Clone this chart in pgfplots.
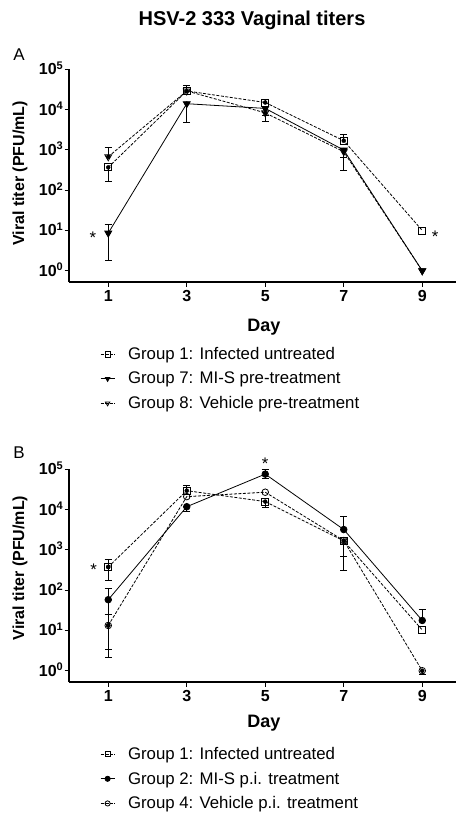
\documentclass[border=0pt]{standalone}
\usepackage{fontspec}
\setmainfont{Liberation Sans}
\usepackage{pgfplots}
\pgfplotsset{compat=1.18}

\newcommand\tp[1]{10\smash{\raisebox{5.5pt}{\fontsize{11}{11}\selectfont\bfseries #1}}}

\pgfplotsset{
 legend image code/.code={\draw[mark repeat=2,mark phase=2,#1, mark size=2.6pt] plot coordinates {(0pt,0pt) (7pt,0pt) (14pt,0pt)};},
 sDsh/.style={black, line width=0.8pt, dash pattern=on 3pt off 1.5pt},
 sSld/.style={black, line width=0.8pt, solid},
 sGa/.style={sDsh, mark=square, mark size=3.5pt, mark options={solid, fill=white}},
 sGb/.style={sSld, mark=triangle*, mark size=4pt, mark options={solid, fill=black, rotate=180}},
 sGc/.style={sDsh, mark=triangle, mark size=4pt, mark options={solid, fill=white, rotate=180}},
 sGd/.style={sSld, mark=*, mark size=3.3pt, mark options={solid, fill=black}},
 sGe/.style={sDsh, mark=o, mark size=3.3pt, mark options={solid, fill=white}},
}

\begin{document}
\begin{tikzpicture}
\useasboundingbox (0,0) rectangle (457pt,-815pt);

\node[anchor=base, font=\bfseries\fontsize{20}{24}\selectfont] at (252pt,-25pt) {HSV-2 333 Vaginal titers};
\node[anchor=base, font=\fontsize{17}{20}\selectfont] at (19pt,-60pt) {A};
\node[anchor=base, font=\fontsize{17}{20}\selectfont] at (19pt,-458pt) {B};
\node[rotate=90, font=\bfseries\fontsize{16}{19}\selectfont] at (20pt,-173.5pt) {Viral titer (PFU/mL)};
\node[rotate=90, font=\bfseries\fontsize{16}{19}\selectfont] at (20pt,-568pt) {Viral titer (PFU/mL)};
\node[anchor=base, font=\bfseries\fontsize{18}{22}\selectfont] at (264pt,-331pt) {Day};
\node[anchor=base, font=\bfseries\fontsize{18}{22}\selectfont] at (264pt,-727pt) {Day};

% ---------------- Panel A ----------------
\begin{axis}[at={(69pt,-282pt)}, anchor=south west,
  scale only axis, width=386.6pt, height=212.7pt,
  xmin=0, xmax=9.85, ymode=log, ymin=0.525, ymax=1e5,
  axis x line*=bottom, axis y line*=left,
  axis line style={line width=1.5pt},
  xtick={1,3,5,7,9}, ytick={1,10,100,1000,10000,100000},
  yticklabels={\tp{0},\tp{1},\tp{2},\tp{3},\tp{4},\tp{5}},
  yminorticks=false, xminorticks=false,
  tick align=outside, major tick length=4.5pt,
  tick style={line width=1.2pt, black},
  ticklabel style={font=\bfseries\fontsize{16}{19}\selectfont},
  yticklabel style={inner sep=1.5pt},
  /pgf/number format/assume math mode=true,
  clip=false,
  legend style={draw=none, fill=none, font=\fontsize{16.8}{20}\selectfont, anchor=west, at={(0.0802,-0.455)}, inner sep=0pt, row sep=9pt, nodes={inner sep=1pt}, /tikz/every odd column/.append style={column sep=12pt}},
  legend cell align=left]
% error bars
\addplot[only marks, mark=none, forget plot, black, error bars/.cd, y dir=plus, y explicit, error bar style={solid, black, line width=0.8pt}, error mark options={rotate=90, solid, black, mark size=3.5pt, line width=0.8pt}] coordinates {(3,29000) +- (0,11000) (5,15000) +- (0,3000) (7,1690) +- (0,770)};
\addplot[only marks, mark=none, forget plot, black, error bars/.cd, y dir=minus, y explicit, error bar style={solid, black, line width=0.8pt}, error mark options={rotate=90, solid, black, mark size=3.5pt, line width=0.8pt}] coordinates {(1,368) +- (0,206)};
\addplot[only marks, mark=none, forget plot, black, error bars/.cd, y dir=plus, y explicit, error bar style={solid, black, line width=0.8pt}, error mark options={rotate=90, solid, black, mark size=3.5pt, line width=0.8pt}] coordinates {(1,8.6) +- (0,5.4)};
\addplot[only marks, mark=none, forget plot, black, error bars/.cd, y dir=minus, y explicit, error bar style={solid, black, line width=0.8pt}, error mark options={rotate=90, solid, black, mark size=3.5pt, line width=0.8pt}] coordinates {(1,8.6) +- (0,6.76) (3,14000) +- (0,9200) (5,10700) +- (0,3400) (7,990) +- (0,340)};
\addplot[only marks, mark=none, forget plot, black, error bars/.cd, y dir=plus, y explicit, error bar style={solid, black, line width=0.8pt}, error mark options={rotate=90, solid, black, mark size=3.5pt, line width=0.8pt}] coordinates {(1,675) +- (0,455)};
\addplot[only marks, mark=none, forget plot, black, error bars/.cd, y dir=minus, y explicit, error bar style={solid, black, line width=0.8pt}, error mark options={rotate=90, solid, black, mark size=3.5pt, line width=0.8pt}] coordinates {(5,8300) +- (0,3100) (7,900) +- (0,585)};
% series
\addplot[sGc, forget plot] coordinates {(1,675) (3,29000) (5,8300) (7,900) (9,1)};
\addplot[sGa] coordinates {(1,368) (3,29000) (5,15000) (7,1690) (9,10)};
\addlegendentry{Group 1: Infected untreated}
\addplot[sGb] coordinates {(1,8.6) (3,14000) (5,10700) (7,990) (9,1)};
\addlegendentry{Group 7: MI-S pre-treatment}
\addlegendimage{sGc}
\addlegendentry{Group 8: Vehicle pre-treatment}
\node[font=\fontsize{16.8}{20}\selectfont, yshift=-3.7pt] at (axis cs:0.61,8.1) {*};
\node[font=\fontsize{16.8}{20}\selectfont, yshift=-3.7pt] at (axis cs:9.33,8.8) {*};
\end{axis}

% ---------------- Panel B ----------------
\begin{axis}[at={(69pt,-682pt)}, anchor=south west,
  scale only axis, width=386.6pt, height=212.7pt,
  xmin=0, xmax=9.85, ymode=log, ymin=0.525, ymax=1e5,
  axis x line*=bottom, axis y line*=left,
  axis line style={line width=1.5pt},
  xtick={1,3,5,7,9}, ytick={1,10,100,1000,10000,100000},
  yticklabels={\tp{0},\tp{1},\tp{2},\tp{3},\tp{4},\tp{5}},
  yminorticks=false, xminorticks=false,
  tick align=outside, major tick length=4.5pt,
  tick style={line width=1.2pt, black},
  ticklabel style={font=\bfseries\fontsize{16}{19}\selectfont},
  yticklabel style={inner sep=1.5pt},
  /pgf/number format/assume math mode=true,
  clip=false,
  legend style={draw=none, fill=none, font=\fontsize{16.8}{20}\selectfont, anchor=west, at={(0.0802,-0.455)}, inner sep=0pt, row sep=9pt, nodes={inner sep=1pt}, /tikz/every odd column/.append style={column sep=12pt}},
  legend cell align=left]
\addplot[only marks, mark=none, forget plot, black, error bars/.cd, y dir=plus, y explicit, error bar style={solid, black, line width=0.8pt}, error mark options={rotate=90, solid, black, mark size=3.5pt, line width=0.8pt}] coordinates {(1,377) +- (0,198) (3,29500) +- (0,11500)};
\addplot[only marks, mark=none, forget plot, black, error bars/.cd, y dir=minus, y explicit, error bar style={solid, black, line width=0.8pt}, error mark options={rotate=90, solid, black, mark size=3.5pt, line width=0.8pt}] coordinates {(1,377) +- (0,201) (5,15800) +- (0,4400) (7,1670) +- (0,1360)};
\addplot[only marks, mark=none, forget plot, black, error bars/.cd, y dir=plus, y explicit, error bar style={solid, black, line width=0.8pt}, error mark options={rotate=90, solid, black, mark size=3.5pt, line width=0.8pt}] coordinates {(1,58) +- (0,51) (5,76000) +- (0,21000) (7,3200) +- (0,3400) (9,17.7) +- (0,15.3)};
\addplot[only marks, mark=none, forget plot, black, error bars/.cd, y dir=minus, y explicit, error bar style={solid, black, line width=0.8pt}, error mark options={rotate=90, solid, black, mark size=3.5pt, line width=0.8pt}] coordinates {(1,58) +- (0,54.7) (3,11800) +- (0,2900) (5,76000) +- (0,18000)};
\addplot[only marks, mark=none, forget plot, black, error bars/.cd, y dir=plus, y explicit, error bar style={solid, black, line width=0.8pt}, error mark options={rotate=90, solid, black, mark size=3.5pt, line width=0.8pt}] coordinates {(1,13.3) +- (0,11.7)};
\addplot[only marks, mark=none, forget plot, black, error bars/.cd, y dir=minus, y explicit, error bar style={solid, black, line width=0.8pt}, error mark options={rotate=90, solid, black, mark size=3.5pt, line width=0.8pt}] coordinates {(1,13.3) +- (0,11.2) (7,1700) +- (0,1030) (9,1) +- (0,0.17)};
\addplot[sGa] coordinates {(1,377) (3,29500) (5,15800) (7,1670) (9,10.3)};
\addlegendentry{Group 1: Infected untreated}
\addplot[sGd] coordinates {(1,58) (3,11800) (5,76000) (7,3200) (9,17.7)};
\addlegendentry{Group 2: MI-S p.i. treatment}
\addplot[sGe] coordinates {(1,13.3) (3,21000) (5,27000) (7,1700) (9,1)};
\addlegendentry{Group 4: Vehicle p.i. treatment}
\node[font=\fontsize{16.8}{20}\selectfont, yshift=-3.7pt] at (axis cs:0.625,390) {*};
\node[font=\fontsize{16.8}{20}\selectfont, yshift=-3.7pt] at (axis cs:5,166000) {*};
\end{axis}
\end{tikzpicture}
\end{document}
